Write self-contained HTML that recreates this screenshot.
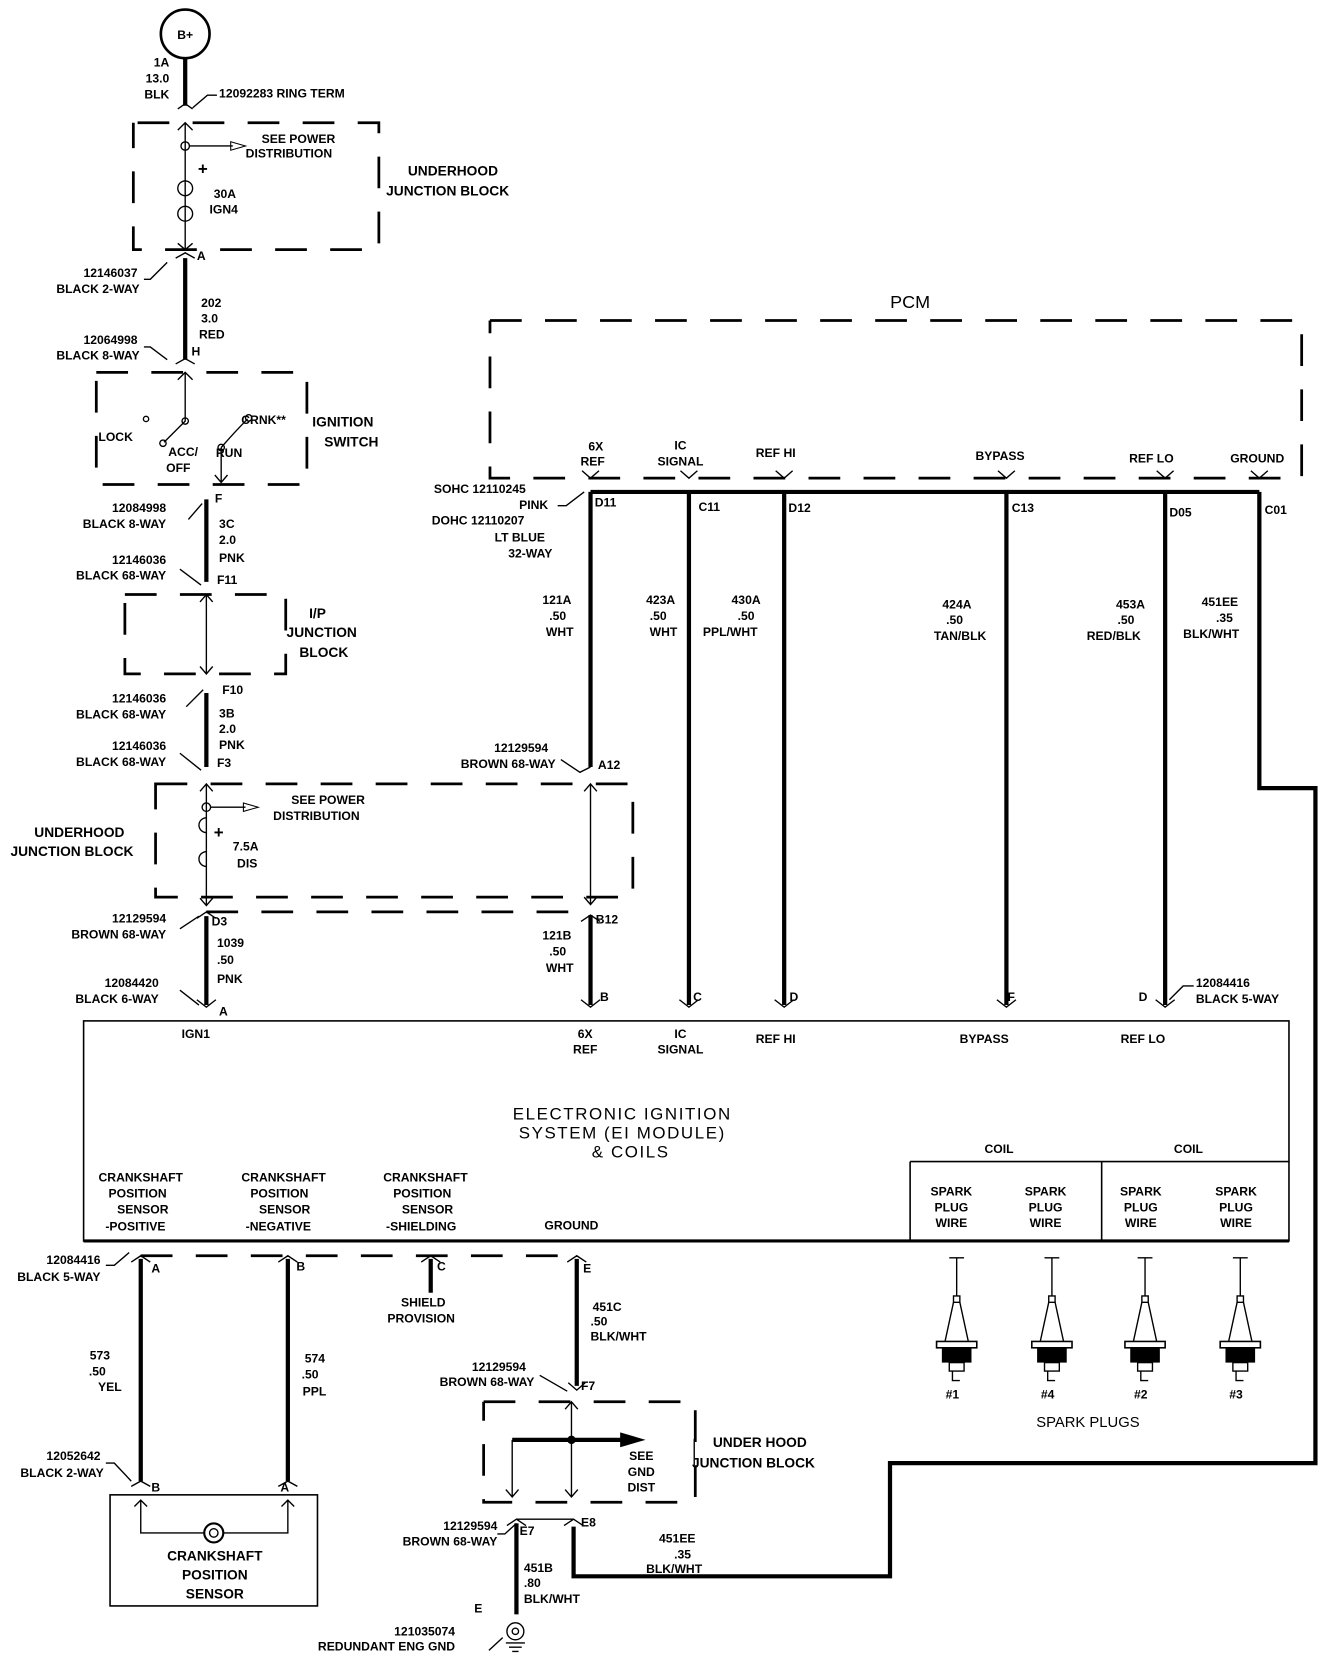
<!DOCTYPE html>
<html><head><meta charset="utf-8"><style>
html,body{margin:0;padding:0;background:#fff;}
svg{display:block;}
text{font-family:"Liberation Sans Narrow","Liberation Sans",sans-serif;font-weight:bold;font-size:11.5px;fill:#000;}
.r{text-anchor:end}.m{text-anchor:middle}
.w{stroke:#000;stroke-width:4;fill:none}
.t{stroke:#000;stroke-width:1.3;fill:none}
.d{stroke:#000;stroke-width:2.6;fill:none;stroke-dasharray:30 22}
</style></head><body>
<svg width="1344" height="1662" viewBox="0 0 1270 1571" preserveAspectRatio="none" xmlns="http://www.w3.org/2000/svg">
<rect width="1270" height="1571" fill="#fff"/>
<circle cx="175" cy="32" r="23" fill="none" stroke="#000" stroke-width="2.5"/>
<text x="175" y="37" class="m">B+</text>
<path class="w" d="M175 55V100"/>
<text x="160" y="63" class="r">1A</text><text x="160" y="78" class="r">13.0</text><text x="160" y="93" class="r">BLK</text>
<path class="t" d="M182 102L196 90H205"/><text x="207" y="92">12092283 RING TERM</text>
<path class="t" d="M168 103L175 98L182 103"/>
<path class="d" d="M130 116H358V236H126V116"/>
<path class="t" d="M175 116V236M168 123L175 116L182 123M168 230L175 236L182 230"/>
<circle cx="175" cy="138" r="4" class="t"/><path class="t" d="M179 138H220"/><path d="M218 134L232 138L218 142Z" fill="none" stroke="#000"/>
<text x="282" y="135" class="m">SEE POWER</text><text x="273" y="149" class="m">DISTRIBUTION</text>
<text x="187" y="165" style="font-size:16px">+</text>
<circle cx="175" cy="178" r="7" class="t" stroke-width="2"/><circle cx="175" cy="202" r="7" class="t" stroke-width="2"/>
<text x="202" y="187">30A</text><text x="198" y="202">IGN4</text>
<text x="428" y="166" class="m" style="font-size:13px">UNDERHOOD</text><text x="423" y="185" class="m" style="font-size:13px">JUNCTION BLOCK</text>
<path class="t" d="M166 244L175 239L184 244"/><text x="186" y="246">A</text>
<path class="w" d="M175 244V340"/>
<path class="t" d="M136 264H142L158 248"/>
<text x="130" y="262" class="r">12146037</text><text x="132" y="277" class="r">BLACK 2-WAY</text>
<text x="190" y="290">202</text><text x="190" y="305">3.0</text><text x="188" y="320">RED</text>
<text x="130" y="325" class="r">12064998</text><text x="132" y="340" class="r">BLACK 8-WAY</text>
<path class="t" d="M136 328H142L158 340"/><path class="t" d="M166 344L175 339L184 344"/><text x="181" y="336">H</text>
<path class="d" d="M91 352H290V458H91V352"/>
<path class="t" d="M175 352V398L155 418M168 359L175 352L182 359"/><circle cx="175" cy="398" r="3" class="t"/><circle cx="154" cy="419" r="3" class="t"/>
<circle cx="138" cy="396" r="2.5" class="t"/><text x="93" y="417">LOCK</text>
<text x="159" y="431">ACC/</text><text x="157" y="446">OFF</text>
<circle cx="209" cy="423" r="3" class="t"/><path class="t" d="M209 423Q222 408 234 396M209 423V455M203 449L209 456L215 449"/><circle cx="235" cy="395" r="3" class="t"/>
<text x="228" y="401">CRNK**</text><text x="204" y="432">RUN</text>
<text x="324" y="403" class="m" style="font-size:13px">IGNITION</text><text x="332" y="422" class="m" style="font-size:13px">SWITCH</text>
<path class="w" d="M195 472V550"/>
<path class="t" d="M178 491L191 476"/><text x="157" y="484" class="r">12084998</text><text x="157" y="499" class="r">BLACK 8-WAY</text><text x="203" y="475">F</text>
<text x="207" y="499">3C</text><text x="207" y="514">2.0</text><text x="207" y="531">PNK</text>
<text x="157" y="533" class="r">12146036</text><text x="157" y="548" class="r">BLACK 68-WAY</text><text x="205" y="552">F11</text>
<path class="t" d="M170 538L190 553"/>
<path class="d" d="M118 562H270V637H118V562"/>
<path class="t" d="M195 562V637M189 569L195 562L201 569M189 630L195 637L201 630"/>
<text x="300" y="584" class="m" style="font-size:13px">I/P</text><text x="304" y="602" class="m" style="font-size:13px">JUNCTION</text><text x="306" y="621" class="m" style="font-size:13px">BLOCK</text>
<path class="w" d="M195 655V725"/>
<path class="t" d="M176 668L192 652"/><text x="157" y="664" class="r">12146036</text><text x="157" y="679" class="r">BLACK 68-WAY</text><text x="210" y="656">F10</text>
<text x="207" y="678">3B</text><text x="207" y="693">2.0</text><text x="207" y="708">PNK</text>
<text x="157" y="709" class="r">12146036</text><text x="157" y="724" class="r">BLACK 68-WAY</text><text x="205" y="725">F3</text>
<path class="t" d="M170 712L190 728"/>
<rect x="147" y="741" width="451" height="107" class="d"/>
<path class="t" d="M195 741V856M189 748L195 741L201 748M189 849L195 856L201 849"/>
<circle cx="195" cy="763" r="4" class="t"/><path class="t" d="M199 763H232"/><path d="M230 759L244 763L230 767Z" fill="none" stroke="#000"/>
<text x="310" y="760" class="m">SEE POWER</text><text x="299" y="775" class="m">DISTRIBUTION</text>
<text x="202" y="792" style="font-size:16px">+</text>
<path class="t" d="M195 773A7 7 0 0 0 195 787M195 805A7 7 0 0 0 195 819" stroke-width="2"/>
<text x="220" y="804">7.5A</text><text x="224" y="820">DIS</text>
<path class="t" d="M558 741V855M552 748L558 741L564 748M552 848L558 855L564 848"/>
<text x="75" y="791" class="m" style="font-size:13px">UNDERHOOD</text><text x="68" y="809" class="m" style="font-size:13px">JUNCTION BLOCK</text>
<path class="d" d="M195 862H558" stroke-width="1.5" stroke-dasharray="20 15"/>
<path class="w" d="M195 866V950"/>
<path class="t" d="M186 868L195 862L204 868"/>
<text x="157" y="872" class="r">12129594</text><text x="157" y="887" class="r">BROWN 68-WAY</text><text x="200" y="875">D3</text>
<path class="t" d="M170 878L188 866"/>
<text x="205" y="895">1039</text><text x="205" y="911">.50</text><text x="205" y="929">PNK</text>
<text x="150" y="933" class="r">12084420</text><text x="150" y="948" class="r">BLACK 6-WAY</text><text x="207" y="960">A</text>
<path class="t" d="M170 936L188 950M186 945L195 952L204 945"/>
<text x="860" y="291" class="m" style="font-size:17px;font-weight:normal">PCM</text>
<path class="d" d="M463 303H1230V452H463V303"/>
<text x="563" y="426" class="m">6X</text><text x="560" y="440" class="m">REF</text>
<text x="643" y="425" class="m">IC</text><text x="643" y="440" class="m">SIGNAL</text>
<text x="733" y="432" class="m">REF HI</text><text x="945" y="435" class="m">BYPASS</text>
<text x="1088" y="437" class="m">REF LO</text><text x="1188" y="437" class="m">GROUND</text>
<path class="t" d="M550 445L558 452L566 445M643 445L651 452L659 445M733 445L741 452L749 445M943 445L951 452L959 445M1093 445L1101 452L1109 445M1182 445L1190 452L1198 445"/>
<path class="w" d="M558 465H1190" stroke-width="2"/>
<path class="w" d="M558 465V725M558 865V950M651 465V950M741 465V950M951 465V950M1101 465V950"/>
<path class="w" d="M1190 465V745H1243V1383H841V1490H542V1443"/>
<text x="562" y="479">D11</text><text x="660" y="483">C11</text><text x="745" y="484">D12</text><text x="956" y="484">C13</text><text x="1105" y="488">D05</text><text x="1195" y="486">C01</text>
<text x="410" y="466">SOHC 12110245</text><text x="518" y="481" class="r">PINK</text>
<text x="408" y="496">DOHC 12110207</text><text x="515" y="512" class="r">LT BLUE</text><text x="522" y="527" class="r">32-WAY</text>
<path class="t" d="M527 478H535L552 465"/>
<text x="540" y="571" class="r">121A</text><text x="535" y="586" class="r">.50</text><text x="542" y="601" class="r">WHT</text>
<text x="638" y="571" class="r">423A</text><text x="630" y="586" class="r">.50</text><text x="640" y="601" class="r">WHT</text>
<text x="705" y="571" class="m">430A</text><text x="705" y="586" class="m">.50</text><text x="690" y="601" class="m">PPL/WHT</text>
<text x="918" y="575" class="r">424A</text><text x="910" y="590" class="r">.50</text><text x="932" y="605" class="r">TAN/BLK</text>
<text x="1082" y="575" class="r">453A</text><text x="1072" y="590" class="r">.50</text><text x="1078" y="605" class="r">RED/BLK</text>
<text x="1170" y="573" class="r">451EE</text><text x="1165" y="588" class="r">.35</text><text x="1171" y="603" class="r">BLK/WHT</text>
<text x="518" y="711" class="r">12129594</text><text x="525" y="726" class="r">BROWN 68-WAY</text><text x="565" y="727">A12</text>
<path class="t" d="M530 718L548 730L558 725"/>
<text x="563" y="873">B12</text>
<path class="t" d="M549 871L558 865L567 871"/>
<text x="540" y="888" class="r">121B</text><text x="535" y="903" class="r">.50</text><text x="542" y="919" class="r">WHT</text>
<text x="567" y="946">B</text><text x="655" y="946">C</text><text x="746" y="946">D</text><text x="952" y="946">F</text><text x="1076" y="946">D</text>
<path class="t" d="M549 945L558 952L567 945M642 945L651 952L660 945M732 945L741 952L750 945M942 945L951 952L960 945M1092 945L1101 952L1110 945"/>
<path class="t" d="M1105 945L1118 932H1128"/><text x="1130" y="933">12084416</text><text x="1130" y="948">BLACK 5-WAY</text>
<rect x="79" y="965" width="1139" height="208" fill="none" stroke="#000" stroke-width="1.5"/>
<path d="M79 1173H1218" stroke="#000" stroke-width="3"/>
<text x="185" y="981" class="m">IGN1</text>
<text x="553" y="981" class="m">6X</text><text x="553" y="996" class="m">REF</text>
<text x="643" y="981" class="m">IC</text><text x="643" y="996" class="m">SIGNAL</text>
<text x="733" y="986" class="m">REF HI</text><text x="930" y="986" class="m">BYPASS</text><text x="1080" y="986" class="m">REF LO</text>
<text x="588" y="1058" class="m" style="font-size:16px;font-weight:normal;letter-spacing:1.5px">ELECTRONIC IGNITION</text>
<text x="588" y="1076" class="m" style="font-size:16px;font-weight:normal;letter-spacing:1.5px">SYSTEM (EI MODULE)</text>
<text x="596" y="1094" class="m" style="font-size:16px;font-weight:normal;letter-spacing:1.5px">&amp; COILS</text>
<text x="944" y="1090" class="m">COIL</text><text x="1123" y="1090" class="m">COIL</text>
<path d="M860 1098H1218M860 1098V1173M1041 1098V1173" stroke="#000" stroke-width="1.5" fill="none"/>
<text x="899" y="1130" class="m">SPARK</text><text x="899" y="1145" class="m">PLUG</text><text x="899" y="1160" class="m">WIRE</text>
<text x="988" y="1130" class="m">SPARK</text><text x="988" y="1145" class="m">PLUG</text><text x="988" y="1160" class="m">WIRE</text>
<text x="1078" y="1130" class="m">SPARK</text><text x="1078" y="1145" class="m">PLUG</text><text x="1078" y="1160" class="m">WIRE</text>
<text x="1168" y="1130" class="m">SPARK</text><text x="1168" y="1145" class="m">PLUG</text><text x="1168" y="1160" class="m">WIRE</text>
<text x="133" y="1117" class="m">CRANKSHAFT</text><text x="130" y="1132" class="m">POSITION</text><text x="135" y="1147" class="m">SENSOR</text><text x="128" y="1163" class="m">-POSITIVE</text>
<text x="268" y="1117" class="m">CRANKSHAFT</text><text x="264" y="1132" class="m">POSITION</text><text x="269" y="1147" class="m">SENSOR</text><text x="263" y="1163" class="m">-NEGATIVE</text>
<text x="402" y="1117" class="m">CRANKSHAFT</text><text x="399" y="1132" class="m">POSITION</text><text x="404" y="1147" class="m">SENSOR</text><text x="398" y="1163" class="m">-SHIELDING</text>
<text x="540" y="1162" class="m">GROUND</text>
<path class="d" d="M133 1187H545" stroke-width="1.8" stroke-dasharray="110 6"/>
<path class="t" d="M124 1193L133 1187L142 1193M263 1193L272 1187L281 1193M398 1193L407 1187L416 1193M536 1193L545 1187L554 1193"/>
<text x="143" y="1203">A</text><text x="280" y="1201">B</text><text x="413" y="1201">C</text><text x="551" y="1203">E</text>
<path class="w" d="M133 1190V1400M272 1190V1400M407 1190V1222M545 1190V1310" stroke-width="3.5"/>
<path class="t" d="M100 1196H108L122 1184"/>
<text x="95" y="1195" class="r">12084416</text><text x="95" y="1211" class="r">BLACK 5-WAY</text>
<text x="104" y="1285" class="r">573</text><text x="100" y="1300" class="r">.50</text><text x="115" y="1315" class="r">YEL</text>
<text x="288" y="1288">574</text><text x="285" y="1303">.50</text><text x="286" y="1319">PPL</text>
<text x="400" y="1235" class="m">SHIELD</text><text x="398" y="1250" class="m">PROVISION</text>
<text x="560" y="1239">451C</text><text x="558" y="1253">.50</text><text x="558" y="1267">BLK/WHT</text>
<text x="497" y="1296" class="r">12129594</text><text x="505" y="1310" class="r">BROWN 68-WAY</text><text x="549" y="1314">F7</text>
<path class="t" d="M510 1300L536 1315M537 1307L545 1314L553 1307"/>
<path class="d" d="M457 1325H657V1420H457V1325"/>
<path class="t" d="M540 1325V1415M534 1332L540 1325L546 1332M534 1408L540 1415L546 1408M484 1361V1415M478 1408L484 1415L490 1408"/>
<path class="w" d="M484 1361H590" stroke-width="2.5"/><circle cx="540" cy="1361" r="4" fill="#000"/>
<path d="M586 1354L610 1361L586 1368Z" fill="#000"/>
<text x="606" y="1380" class="m">SEE</text><text x="606" y="1395" class="m">GND</text><text x="606" y="1410" class="m">DIST</text>
<text x="718" y="1368" class="m" style="font-size:13px">UNDER HOOD</text><text x="712" y="1387" class="m" style="font-size:13px">JUNCTION BLOCK</text>
<path class="t" d="M656 1360V1385"/>
<path class="t" d="M479 1442L488 1436L497 1442M533 1442L542 1436L551 1442M488 1436H542"/>
<text x="470" y="1446" class="r">12129594</text><text x="470" y="1461" class="r">BROWN 68-WAY</text><text x="491" y="1451">E7</text><text x="549" y="1443">E8</text>
<path class="t" d="M470 1450H477L488 1440"/>
<path class="w" d="M488 1440V1526" stroke-width="3"/>
<text x="495" y="1486">451B</text><text x="495" y="1500">.80</text><text x="495" y="1515">BLK/WHT</text>
<text x="640" y="1458" class="m">451EE</text><text x="645" y="1473" class="m">.35</text><text x="637" y="1487" class="m">BLK/WHT</text>
<text x="452" y="1524" class="m">E</text>
<circle cx="487" cy="1542" r="8" class="t" stroke-width="2"/><circle cx="487" cy="1542" r="3" class="t"/>
<path class="t" d="M478 1553H496M481 1557H493M484 1561H490"/>
<path class="t" d="M462 1560L475 1548"/>
<text x="430" y="1546" class="r">121035074</text><text x="430" y="1560" class="r">REDUNDANT ENG GND</text>
<text x="95" y="1380" class="r">12052642</text><text x="98" y="1396" class="r">BLACK 2-WAY</text>
<path class="t" d="M100 1383H108L124 1400M124 1405L133 1400L142 1405M263 1405L272 1400L281 1405"/>
<text x="143" y="1410">B</text><text x="265" y="1410">A</text>
<rect x="104" y="1413" width="196" height="105" fill="none" stroke="#000" stroke-width="1.5"/>
<path class="t" d="M133 1418V1449H272V1418M127 1424L133 1418L139 1424M266 1424L272 1418L278 1424" stroke-width="2"/>
<circle cx="202" cy="1449" r="9" fill="#fff" stroke="#000" stroke-width="2"/><circle cx="202" cy="1449" r="4" class="t"/>
<text x="203" y="1475" class="m" style="font-size:13px">CRANKSHAFT</text><text x="203" y="1493" class="m" style="font-size:13px">POSITION</text><text x="203" y="1511" class="m" style="font-size:13px">SENSOR</text>
<g id="p1">
<path class="t" d="M897 1189H911M904 1189V1225"/>
<rect x="901" y="1225" width="6" height="6" class="t"/>
<path class="t" d="M901 1231L893 1268M907 1231L915 1268"/>
<rect x="885" y="1268" width="38" height="6" fill="#fff" stroke="#000" stroke-width="1.5"/>
<rect x="890" y="1274" width="28" height="14" fill="#000"/>
<rect x="897" y="1288" width="14" height="8" class="t"/>
<path class="t" d="M900 1296V1305H907" stroke-width="2"/>
</g>
<use href="#p1" x="90"/><use href="#p1" x="178"/><use href="#p1" x="268"/>
<text x="900" y="1322" class="m">#1</text><text x="990" y="1322" class="m">#4</text><text x="1078" y="1322" class="m">#2</text><text x="1168" y="1322" class="m">#3</text>
<text x="1028" y="1349" class="m" style="font-size:14px;font-weight:normal">SPARK PLUGS</text>
</svg>
</body></html>
